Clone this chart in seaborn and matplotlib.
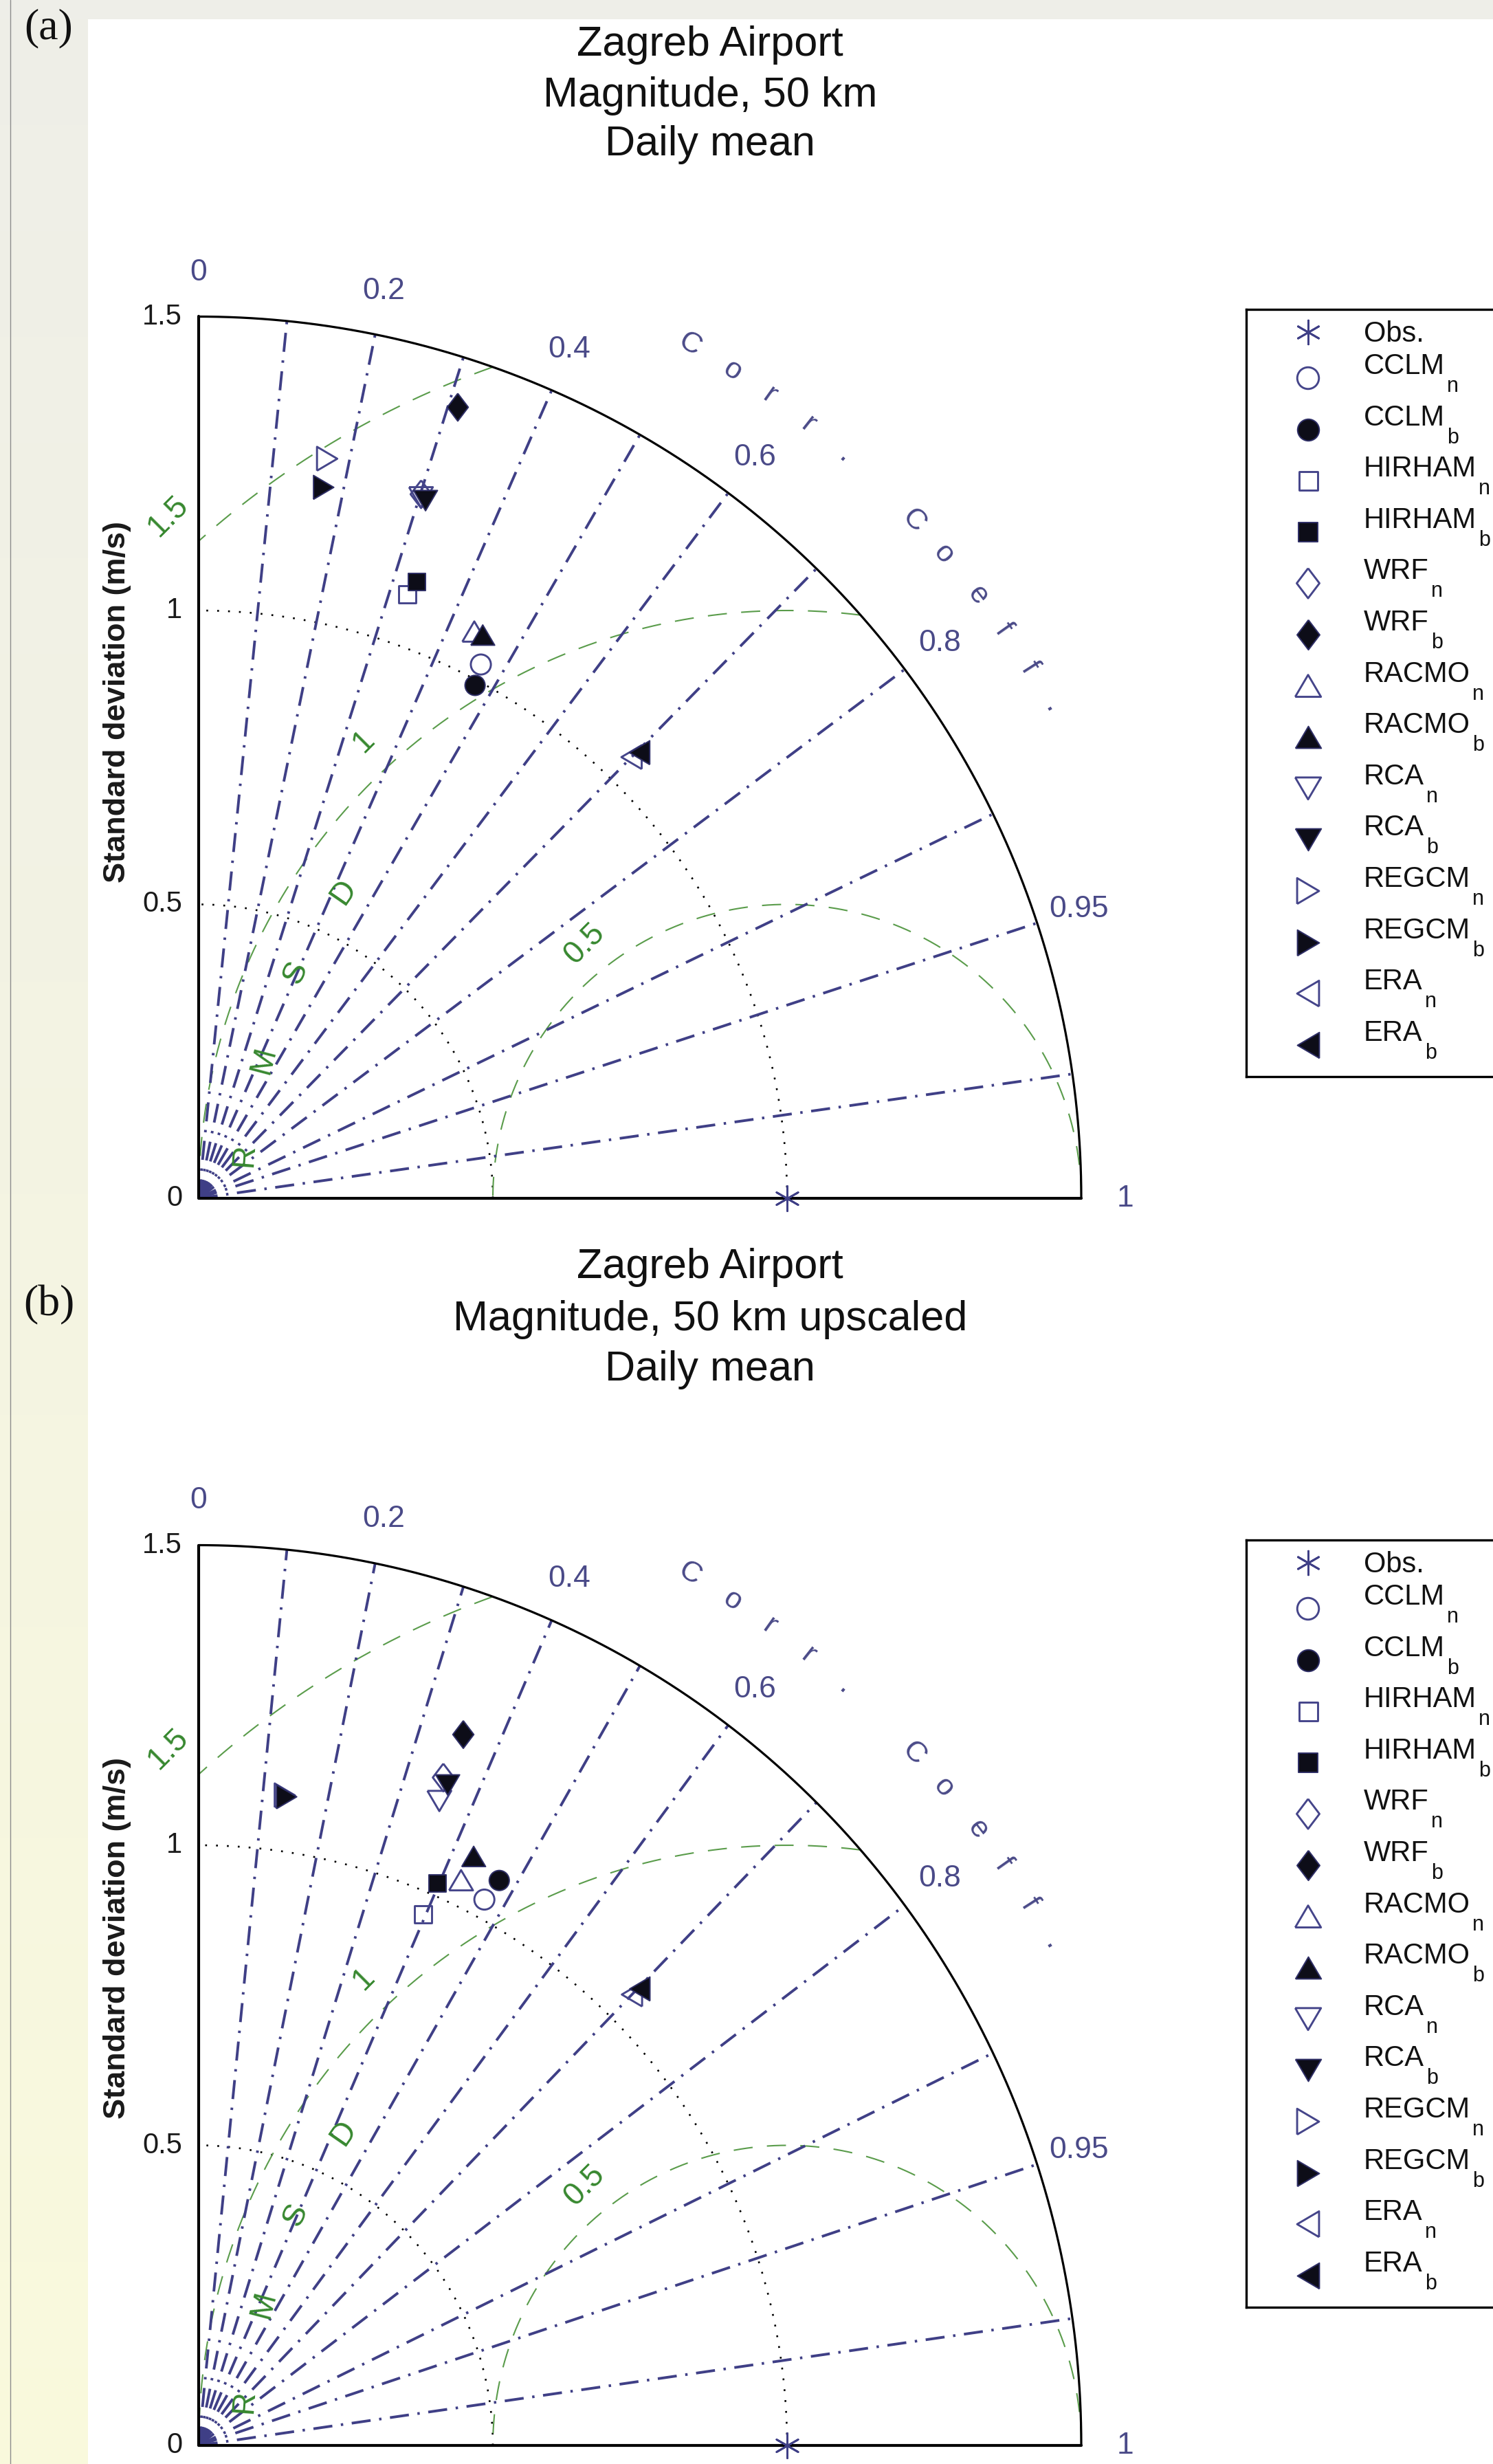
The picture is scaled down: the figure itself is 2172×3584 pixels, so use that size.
import numpy as np
import pandas as pd
import matplotlib
matplotlib.use("Agg")
import matplotlib.pyplot as plt
from matplotlib.patches import Rectangle
import seaborn as sns

# ---------------- data ----------------
models = ["CCLM", "HIRHAM", "WRF", "RACMO", "RCA", "REGCM", "ERA"]
obs_std = 1.0

# (a) Magnitude, 50 km  -- std dev (m/s) and correlation
std_a_n = [1.027, 1.087, 1.256, 1.072, 1.251, 1.277, 1.051]
corr_a_n = [0.467, 0.326, 0.301, 0.437, 0.302, 0.171, 0.700]
std_a_b = [0.991, 1.112, 1.416, 1.073, 1.248, 1.228, 1.066]
corr_a_b = [0.474, 0.334, 0.311, 0.450, 0.309, 0.173, 0.703]

# (b) Magnitude, 50 km upscaled
std_b_n = [1.031, 0.964, 1.188, 1.042, 1.149, 1.093, 1.052]
corr_b_n = [0.471, 0.396, 0.350, 0.428, 0.356, 0.134, 0.700]
std_b_b = [1.071, 1.021, 1.267, 1.087, 1.179, 1.091, 1.068]
corr_b_b = [0.477, 0.398, 0.355, 0.430, 0.359, 0.137, 0.702]

corr_lines = [0.1, 0.2, 0.3, 0.4, 0.5, 0.6, 0.7, 0.8, 0.9, 0.95, 0.99]
corr_labels = [0, 0.2, 0.4, 0.6, 0.8, 0.95, 1]
std_ticks = [0, 0.5, 1, 1.5]
std_arcs = [0.5, 1.0]
rmsd_levels = [0.5, 1.0, 1.5]
std_max = 1.5

titles_a = ["Zagreb Airport", "Magnitude, 50 km", "Daily mean"]
titles_b = ["Zagreb Airport", "Magnitude, 50 km upscaled", "Daily mean"]

# ---------------- style ----------------
sns.set_theme(style="white")
plt.rcParams["font.family"] = ["Liberation Sans", "DejaVu Sans"]
plt.rcParams["lines.scale_dashes"] = False

W, H = 2172, 3584
BLUE = "#3f3f86"
BLUE_TXT = "#4a4a88"
EDGE_OPEN = "#45458a"
FILL = "#0d0d18"
EDGE_FILL = "#2e2e66"
GREEN_LINE = "#5a9c4b"
GREEN_TXT = "#37882f"

tri = 0.85
MARKERS = {
    "CCLM": "o",
    "HIRHAM": "s",
    "WRF": [(0, 1), (0.76, 0), (0, -1), (-0.76, 0), (0, 1)],
    "RACMO": [(-1, -tri), (1, -tri), (0, tri), (-1, -tri)],
    "RCA": [(-1, tri), (1, tri), (0, -tri), (-1, tri)],
    "REGCM": [(-tri, -1), (-tri, 1), (tri, 0), (-tri, -1)],
    "ERA": [(tri, -1), (tri, 1), (-tri, 0), (tri, -1)],
}
MSIZE = {"CCLM": 21, "HIRHAM": 18, "WRF": 29, "RACMO": 25,
         "RCA": 25, "REGCM": 25, "ERA": 25}
SIZES = {m: v ** 2 for m, v in MSIZE.items()}
OBS_MARK = (6, 2, 0)

fig = plt.figure(figsize=(W / 100, H / 100), dpi=100)
fig.patch.set_facecolor("white")

# page background: grey/yellow strip on the left, grey band on top
bg = fig.add_axes([0, 0, 1, 1], zorder=-10)
g = np.linspace(0, 1, 256)[:, None, None]
top_c = np.array([0.935, 0.935, 0.91])
bot_c = np.array([0.98, 0.98, 0.865])
bg.imshow(top_c * (1 - g) + bot_c * g, extent=(0, 128, H, 0), aspect="auto")
bg.add_patch(Rectangle((0, 0), W, 28, color=top_c, lw=0))
bg.plot([15, 15], [0, H], color="#8c8c8c", lw=1)
bg.set_xlim(0, W)
bg.set_ylim(H, 0)
bg.axis("off")


def panel_axes(ox, oy, ux, uy):
    x0, x1, y0, y1 = -0.25, 1.95, -0.15, 1.85
    left, right = ox + x0 * ux, ox + x1 * ux
    top, bottom = oy - y1 * uy, oy - y0 * uy
    ax = fig.add_axes([left / W, 1 - bottom / H, (right - left) / W, (bottom - top) / H])
    ax.set_xlim(x0, x1)
    ax.set_ylim(y0, y1)
    ax.axis("off")
    return ax


def draw_taylor(ax, std_n, corr_n, std_b, corr_b):
    t = np.linspace(0, np.pi / 2, 500)
    # std dev arcs
    for r in std_arcs:
        ax.plot(r * np.cos(t), r * np.sin(t), color="black", lw=1.9,
                dashes=(1.9, 9.5), zorder=2)
    # centred RMS difference circles
    phi = np.linspace(0, np.pi, 1500)
    for r in rmsd_levels:
        x = obs_std + r * np.cos(phi)
        y = r * np.sin(phi)
        keep = (np.hypot(x, y) <= std_max + 1e-9) & (x >= -1e-9)
        ax.plot(np.where(keep, x, np.nan), np.where(keep, y, np.nan),
                color=GREEN_LINE, lw=1.5, dashes=(20, 15), zorder=2)
    # correlation rays
    for c in corr_lines:
        ax.plot([0, std_max * c], [0, std_max * np.sqrt(1 - c * c)], color=BLUE,
                lw=2.8, dashes=(20, 9, 2.5, 9), zorder=3)
    # frame
    ax.plot(std_max * np.cos(t), std_max * np.sin(t), color="black", lw=2.3, zorder=4)
    ax.plot([0, 0, std_max], [std_max, 0, 0], color="black", lw=3.0, zorder=4)

    # correlation labels
    for c in corr_labels:
        a = np.arccos(c)
        ax.text(1.575 * np.cos(a), 1.575 * np.sin(a), f"{c:g}", color=BLUE_TXT,
                fontsize=32, ha="center", va="center")
    letters = list("Corr.") + list("Coeff.")
    angles = [60.1, 57.2, 54.6, 51.8, 49.0, 43.5, 40.9, 37.8, 35.3, 32.6, 29.9]
    for ch, a in zip(letters, angles):
        ar = np.radians(a)
        ax.text(1.675 * np.cos(ar), 1.675 * np.sin(ar), ch, color=BLUE_TXT,
                fontsize=31, ha="center", va="center", rotation=a - 90)

    # std dev tick labels and axis label
    for v in std_ticks:
        ax.text(-0.028, v, f"{v:g}", fontsize=30, ha="right", va="center",
                color="#1a1a1a")
    ax.text(-0.139, 0.845, "Standard deviation (m/s)", fontsize=32.5,
            fontweight="bold", rotation=90, ha="center", va="center",
            color="#1a1a1a")

    # RMSD contour labels and title letters
    for txt, (x, y) in zip(["0.5", "1", "1.5"], [(0.656, 0.433), (0.280, 0.777), (-0.052, 1.160)]):
        ax.text(x, y, txt, color=GREEN_TXT, fontsize=33, ha="center",
                va="center", rotation=45)
    for ch, (x, y) in zip("RMSD", [(0.078, 0.073), (0.11, 0.234), (0.165, 0.385), (0.246, 0.521)]):
        rot = np.degrees(np.arctan2(y, x - obs_std)) - 90
        ax.text(x, y, ch, color=GREEN_TXT, fontsize=33, ha="center",
                va="center", rotation=rot)

    # observation
    ax.scatter([obs_std], [0], marker=OBS_MARK, s=26 ** 2, color=BLUE,
               linewidths=2.0, zorder=7, clip_on=False)

    # models
    for std, corr, filled in ((std_n, corr_n, False), (std_b, corr_b, True)):
        s = np.asarray(std)
        c = np.asarray(corr)
        df = pd.DataFrame({"model": models, "x": s * c, "y": s * np.sqrt(1 - c ** 2)})
        if filled:
            kw = dict(color=FILL, edgecolor=EDGE_FILL, linewidth=1.4)
        else:
            kw = dict(facecolor="none", edgecolor=EDGE_OPEN, linewidth=2.1)
        sns.scatterplot(data=df, x="x", y="y", style="model", markers=MARKERS,
                        size="model", sizes=SIZES, legend=False, ax=ax,
                        zorder=6, clip_on=False, **kw)
    ax.set_xlim(-0.25, 1.95)
    ax.set_ylim(-0.15, 1.85)
    ax.axis("off")


def draw_legend(top_px):
    left_px, width_px, height_px = 1813, 430, 1116
    lax = fig.add_axes([left_px / W, 1 - (top_px + height_px) / H,
                        width_px / W, height_px / H])
    lax.set_xlim(0, width_px)
    lax.set_ylim(height_px, 0)
    lax.set_xticks([])
    lax.set_yticks([])
    lax.set_facecolor("white")
    for sp in lax.spines.values():
        sp.set_visible(True)
        sp.set_color("black")
        sp.set_linewidth(2.4)
    renderer = fig.canvas.get_renderer()
    mx, tx = 90, 171
    lax.scatter([mx], [33], marker=OBS_MARK, s=25 ** 2, color=BLUE, linewidths=2.0)
    lax.text(tx, 36, "Obs.", fontsize=30, ha="left", va="center", color="#111111")
    y = 100.0
    for m in models:
        for kind in "nb":
            if kind == "n":
                lax.scatter([mx], [y], marker=MARKERS[m], s=(MSIZE[m] * 1.08) ** 2,
                            facecolor="none", edgecolor=EDGE_OPEN, linewidths=2.1)
            else:
                lax.scatter([mx], [y], marker=MARKERS[m], s=(MSIZE[m] * 1.08) ** 2,
                            color=FILL, edgecolor=EDGE_FILL, linewidths=1.4)
            t = lax.text(tx, y - 17, m, fontsize=30, ha="left", va="center",
                         color="#111111")
            wpx = t.get_window_extent(renderer=renderer).width
            lax.text(tx + wpx + 3, y + 12, kind, fontsize=22, ha="left",
                     va="center", color="#111111")
            y += 74.6


def titles(lines, caps):
    for s, yc in zip(lines, caps):
        fig.text(1033 / W, 1 - (yc + 22) / H, s, fontsize=44, ha="center",
                 va="baseline", color="#111111")


# panel (a)
ax_a = panel_axes(289, 1743, 856, 855)
draw_taylor(ax_a, std_a_n, corr_a_n, std_a_b, corr_a_b)
titles(titles_a, [59, 133, 204])
draw_legend(450)
fig.text(71 / W, 1 - 41 / H, "(a)", fontsize=46, family="Liberation Serif",
         ha="center", va="center", color="#111111")

# panel (b)
ax_b = panel_axes(289, 3557, 856, 873)
draw_taylor(ax_b, std_b_n, corr_b_n, std_b_b, corr_b_b)
titles(titles_b, [1837, 1913, 1986])
draw_legend(2240)
fig.text(71 / W, 1 - 1898 / H, "(b)", fontsize=46, family="Liberation Serif",
         ha="center", va="center", color="#111111")

fig.savefig("out.png", dpi=100)
